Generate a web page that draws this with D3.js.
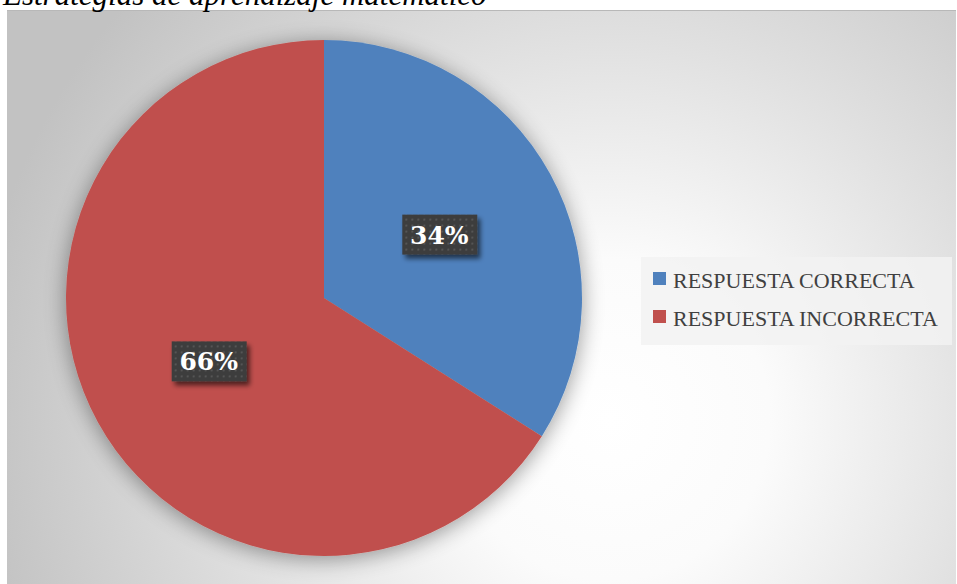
<!DOCTYPE html>
<html>
<head>
<meta charset="utf-8">
<script src="https://cdn.jsdelivr.net/npm/d3@7"></script>
<style>
  body { margin: 0; background: #fff; }
  svg { display: block; }
</style>
</head>
<body>
<div id="chart"></div>
<script>
const categories = ["RESPUESTA CORRECTA", "RESPUESTA INCORRECTA"];
const values = [34, 66];
const colors = ["#4f81bd", "#c0504d"];
const title = "Estrategias de aprendizaje matemático";

const width = 957, height = 584;
const cx = 324, cy = 298, radius = 258;

const svg = d3.select("#chart").append("svg")
    .attr("width", width)
    .attr("height", height);

const defs = svg.append("defs");

// background radial gradient, brightest below-right of the pie
const bg = defs.append("radialGradient")
    .attr("id", "bgGrad")
    .attr("gradientUnits", "userSpaceOnUse")
    .attr("cx", 610).attr("cy", 420).attr("r", 640);
bg.append("stop").attr("offset", "0%").attr("stop-color", "#ffffff");
bg.append("stop").attr("offset", "25%").attr("stop-color", "#fbfbfb");
bg.append("stop").attr("offset", "60%").attr("stop-color", "#e0e0e0");
bg.append("stop").attr("offset", "100%").attr("stop-color", "#c2c2c2");

// soft shadow for the pie
const pieShadow = defs.append("filter").attr("id", "pieShadow")
    .attr("x", "-20%").attr("y", "-20%").attr("width", "140%").attr("height", "140%");
pieShadow.append("feGaussianBlur").attr("in", "SourceAlpha").attr("stdDeviation", 11).attr("result", "b");
pieShadow.append("feOffset").attr("in", "b").attr("dx", 0).attr("dy", 3).attr("result", "o");
pieShadow.append("feComponentTransfer").attr("in", "o").attr("result", "s")
    .append("feFuncA").attr("type", "linear").attr("slope", 0.4);
const m1 = pieShadow.append("feMerge");
m1.append("feMergeNode").attr("in", "s");
m1.append("feMergeNode").attr("in", "SourceGraphic");

// label box shadow
const boxShadow = defs.append("filter").attr("id", "boxShadow")
    .attr("x", "-30%").attr("y", "-30%").attr("width", "160%").attr("height", "180%");
boxShadow.append("feGaussianBlur").attr("in", "SourceAlpha").attr("stdDeviation", 2.5).attr("result", "b");
boxShadow.append("feOffset").attr("in", "b").attr("dx", 3).attr("dy", 4).attr("result", "o");
boxShadow.append("feComponentTransfer").attr("in", "o").attr("result", "s")
    .append("feFuncA").attr("type", "linear").attr("slope", 0.6);
const m2 = boxShadow.append("feMerge");
m2.append("feMergeNode").attr("in", "s");
m2.append("feMergeNode").attr("in", "SourceGraphic");

// dotted pattern for label boxes
const pat = defs.append("pattern").attr("id", "dots")
    .attr("patternUnits", "userSpaceOnUse").attr("width", 6).attr("height", 6);
pat.append("rect").attr("width", 6).attr("height", 6).attr("fill", "#3d3d3d");
pat.append("rect").attr("x", 2).attr("y", 2).attr("width", 2).attr("height", 2).attr("fill", "#555555");

// chart area
svg.append("rect")
    .attr("x", 7).attr("y", 10)
    .attr("width", 949).attr("height", 574)
    .attr("fill", "url(#bgGrad)");
svg.append("line")
    .attr("x1", 7).attr("x2", 956).attr("y1", 10.5).attr("y2", 10.5)
    .attr("stroke", "#b8b8b8");

// title (cut off at the top, as in the source)
svg.append("text")
    .attr("x", 3).attr("y", 5)
    .attr("font-family", "Liberation Serif, serif")
    .attr("font-style", "italic")
    .attr("font-size", 31)
    .attr("fill", "#000")
    .text(title);

const pie = d3.pie().sort(null).value(d => d);
const arcs = pie(values);
const arc = d3.arc().innerRadius(0).outerRadius(radius);
const labelArc = d3.arc().innerRadius(radius * 0.51).outerRadius(radius * 0.51);

const g = svg.append("g").attr("transform", `translate(${cx},${cy})`);

g.append("g").attr("filter", "url(#pieShadow)")
  .selectAll("path")
  .data(arcs)
  .join("path")
    .attr("d", arc)
    .attr("fill", (d, i) => colors[i]);

const labels = g.selectAll("g.lbl")
  .data(arcs)
  .join("g")
    .attr("class", "lbl")
    .attr("transform", d => `translate(${labelArc.centroid(d)})`);

labels.append("rect")
    .attr("x", -37).attr("y", -20)
    .attr("width", 75).attr("height", 40)
    .attr("fill", "url(#dots)")
    .attr("filter", "url(#boxShadow)");

labels.append("text")
    .attr("text-anchor", "middle")
    .attr("y", 9)
    .attr("font-family", "DejaVu Serif, serif")
    .attr("font-weight", "bold")
    .attr("font-size", 25)
    .attr("fill", "#fff")
    .text(d => d.data + "%");

// legend
const legend = svg.append("g").attr("transform", "translate(641,257)");
legend.append("rect")
    .attr("width", 311).attr("height", 88)
    .attr("fill", "#f2f2f2").attr("fill-opacity", 0.85);

const item = legend.selectAll("g.item")
  .data(categories)
  .join("g")
    .attr("class", "item")
    .attr("transform", (d, i) => `translate(12,${15 + i * 38})`);

item.append("rect")
    .attr("width", 13).attr("height", 13)
    .attr("fill", (d, i) => colors[i]);

item.append("text")
    .attr("x", 20).attr("y", 16)
    .attr("font-family", "Liberation Serif, serif")
    .attr("font-size", 22)
    .attr("fill", "#404040")
    .text(d => d);
</script>
</body>
</html>
